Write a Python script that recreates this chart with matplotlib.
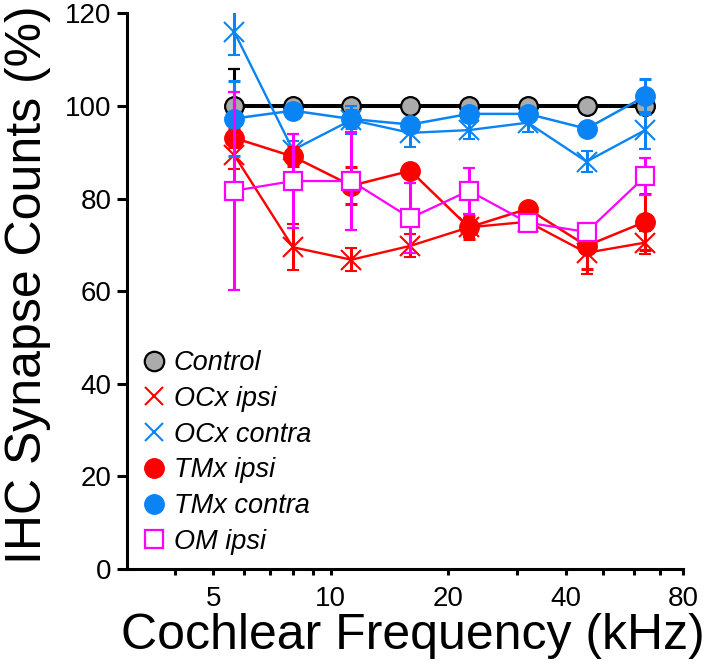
import matplotlib
matplotlib.use('Agg')
import matplotlib.pyplot as plt
from matplotlib.lines import Line2D
import numpy as np

plt.rcParams['font.family'] = ['Liberation Sans', 'DejaVu Sans']

# cochlear frequencies (kHz), half-octave steps
freq = [5.66, 8.0, 11.3, 16.0, 22.6, 32.0, 45.25, 64.0]

# synapse counts (% of control) and error bars
control = [100, 100, 100, 100, 100, 100, 100, 100]
control_err_lo = [0, 0, 0, 0, 0, 0, 0, 0]
control_err_hi = [8, 0, 0, 0, 0, 0, 0, 0]

ocx_ipsi = [89.4, 69.5, 66.8, 69.8, 73.8, 75.0, 68.3, 70.5]
ocx_ipsi_err = [3, 5, 2.5, 2.5, 2, 1, 4.5, 2.5]

ocx_contra = [116, 90.5, 97, 94.2, 94.8, 96.4, 88, 94.8]
ocx_contra_err = [5, 2, 3, 3, 2, 2, 2.2, 4]

tmx_ipsi = [93.1, 89.1, 82.8, 86, 73.8, 77.8, 69.8, 75]
tmx_ipsi_err = [2, 2, 4, 1, 2.5, 1, 5, 6]

tmx_contra = [97.3, 99, 97.2, 96, 98.3, 98.3, 95.1, 102.1]
tmx_contra_err = [8, 1, 2, 1, 1, 1, 1, 3.8]

om_ipsi = [81.7, 83.8, 83.8, 75.8, 81.7, 74.8, 72.8, 84.8]
om_ipsi_err = [21.4, 10.2, 10.5, 7.6, 5, 1, 1.5, 4]

x_ticks = [5, 10, 20, 40, 80]
x_minor = [4, 6, 7, 8, 9, 30, 50, 60, 70]
y_ticks = [0, 20, 40, 60, 80, 100, 120]

RED = '#FF0000'
BLUE = '#0A84F5'
MAG = '#FF00FF'
GRAY = '#ABABAB'

fig = plt.figure(figsize=(7.06, 6.71), dpi=100)
ax = fig.add_axes([0.1795, 0.152, 0.788, 0.828])

eb = dict(elinewidth=2.2, capsize=4.5, capthick=2.2)

ax.errorbar(freq, control, yerr=[control_err_lo, control_err_hi], color='black', lw=2.9,
            marker='o', ms=13.5, mfc=GRAY, mec='black', mew=1.6, zorder=2, **eb)
ax.errorbar(freq, ocx_ipsi, yerr=ocx_ipsi_err, color=RED, lw=1.7,
            marker='x', ms=15, mew=1.5, zorder=3, **eb)
ax.errorbar(freq, ocx_contra, yerr=ocx_contra_err, color=BLUE, lw=1.7,
            marker='x', ms=15, mew=1.5, zorder=3, **eb)
ax.errorbar(freq, tmx_ipsi, yerr=tmx_ipsi_err, color=RED, lw=1.8,
            marker='o', ms=14, mfc=RED, mec=RED, zorder=4, **eb)
ax.errorbar(freq, tmx_contra, yerr=tmx_contra_err, color=BLUE, lw=1.8,
            marker='o', ms=14, mfc=BLUE, mec=BLUE, zorder=4, **eb)
ax.errorbar(freq, om_ipsi, yerr=om_ipsi_err, color=MAG, lw=1.6,
            marker='s', ms=13.5, mfc='white', mec=MAG, mew=1.6, zorder=5, **eb)

ax.set_xscale('log')
ax.set_xlim(3, 80)
ax.set_ylim(0, 120)
ax.set_xticks(x_ticks)
ax.set_xticklabels([str(t) for t in x_ticks])
ax.set_xticks(x_minor, minor=True)
ax.set_xticklabels([], minor=True)
ax.set_yticks(y_ticks)
ax.set_yticklabels([str(t) for t in y_ticks])

for s in ['top', 'right']:
    ax.spines[s].set_visible(False)
for s in ['left', 'bottom']:
    ax.spines[s].set_linewidth(2.2)

ax.tick_params(axis='y', which='major', length=7, width=2.2, labelsize=20, pad=4)
ax.tick_params(axis='x', which='major', length=4.5, width=2.2, labelsize=20, pad=8)
ax.tick_params(axis='x', which='minor', length=4, width=2.2)

ax.set_xlabel('Cochlear Frequency (kHz)', fontsize=36)
ax.set_ylabel('IHC Synapse Counts (%)', fontsize=36)
ax.xaxis.set_label_coords(0.514, -0.080)
ax.yaxis.set_label_coords(-0.1355, 0.511)

handles = [
    Line2D([], [], ls='none', marker='o', ms=14, mfc=GRAY, mec='black', mew=1.6),
    Line2D([], [], ls='none', marker='x', ms=13, color=RED, mew=1.5),
    Line2D([], [], ls='none', marker='x', ms=13, color=BLUE, mew=1.5),
    Line2D([], [], ls='none', marker='o', ms=14, color=RED),
    Line2D([], [], ls='none', marker='o', ms=14, color=BLUE),
    Line2D([], [], ls='none', marker='s', ms=13, mfc='white', mec=MAG, mew=1.6),
]
labels = ['Control', 'OCx ipsi', 'OCx contra', 'TMx ipsi', 'TMx contra', 'OM ipsi']
leg = ax.legend(handles, labels, loc='lower left', bbox_to_anchor=(0.006, 0.006),
                frameon=False, prop={'style': 'italic', 'size': 19.5},
                handlelength=1.0, handletextpad=0.22, labelspacing=0.36,
                borderaxespad=0)

fig.savefig('out.png', dpi=100)
